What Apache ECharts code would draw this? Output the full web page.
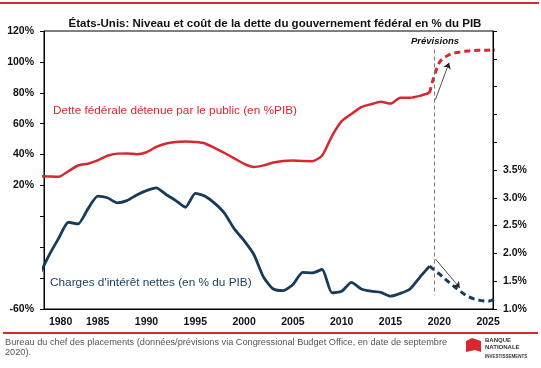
<!DOCTYPE html>
<html><head><meta charset="utf-8">
<script src="https://cdn.jsdelivr.net/npm/echarts@6/dist/echarts.min.js"></script>
<style>html,body{margin:0;padding:0;background:#fff}#c{width:541px;height:368px}</style>
</head><body><div id="c"></div>
<script>
// ---- data ----
const histYears = [];
for (let y = 1979; y <= 2019; y++) histYears.push(y);
const fcYears = [2019, 2020, 2021, 2022, 2023, 2024, 2025, 2026];
const debtHist = [26.0, 25.8, 25.6, 29.2, 32.9, 34.1, 36.2, 39.2, 40.6, 40.7, 40.2, 41.5, 45.0, 47.2, 48.1, 48.4, 48.1, 47.2, 44.2, 41.0, 37.5, 34.0, 32.0, 33.0, 34.8, 35.8, 36.1, 35.8, 35.7, 39.4, 52.0, 61.6, 66.3, 70.7, 72.6, 74.2, 73.0, 76.8, 76.8, 78.0, 80.0];
const debtFc = [80.0, 99.5, 104.6, 106.3, 107.1, 107.5, 107.6, 107.7];
const intHist = [1.60, 1.96, 2.27, 2.56, 2.53, 2.80, 3.03, 3.00, 2.91, 2.95, 3.05, 3.13, 3.18, 3.06, 2.95, 2.83, 3.08, 3.03, 2.90, 2.72, 2.44, 2.23, 1.98, 1.57, 1.36, 1.33, 1.44, 1.66, 1.65, 1.71, 1.29, 1.32, 1.48, 1.36, 1.32, 1.30, 1.23, 1.28, 1.36, 1.57, 1.77];
const intFc = [1.77, 1.63, 1.48, 1.34, 1.22, 1.16, 1.14, 1.22];
const xTickLabels = [1980, 1985, 1990, 1995, 2000, 2005, 2010, 2015, 2020, 2025];
const forecastStart = 2019.5;

const RED = '#d7282f', BLUE = '#183b5c';
const pair = (xs, vs) => xs.map((x, i) => [x, vs[i]]);
const FONT = 'Liberation Sans, Arial, sans-serif';

const chart = echarts.init(document.getElementById('c'), null, {renderer: 'canvas'});
chart.setOption({
  animation: false,
  backgroundColor: '#fff',
  title: {
    text: 'États-Unis: Niveau et coût de la dette du gouvernement fédéral en % du PIB',
    left: 270, top: 13, textAlign: 'center',
    textStyle: {fontFamily: FONT, fontSize: 11.5, fontWeight: 'bold', color: '#111'}
  },
  grid: {left: 44, top: 31, width: 449, height: 278, show: true, borderColor: '#000', borderWidth: 1, containLabel: false},
  xAxis: {
    type: 'value', min: 1979.5, max: 2025.5,
    axisLine: {show: true, onZero: false, lineStyle: {color: '#000', width: 1}},
    axisTick: {show: false},
    splitLine: {show: false},
    axisLabel: {customValues: xTickLabels, alignMinLabel: 'left', margin: 8,
      fontFamily: FONT, fontSize: 10.5, fontWeight: 'bold', color: '#111', formatter: v => String(v)}
  },
  yAxis: [{
    type: 'value', min: -60, max: 120, interval: 20, position: 'left',
    axisLine: {show: true, onZero: false, lineStyle: {color: '#000'}},
    axisTick: {show: true, length: 4, lineStyle: {color: '#000'}},
    splitLine: {show: false},
    axisLabel: {margin: 10, fontFamily: FONT, fontSize: 10.5, fontWeight: 'bold', color: '#111',
      formatter: v => (v >= 20 || v === -60) ? v + '%' : ''}
  }, {
    type: 'value', min: 1, max: 6, interval: 0.5, position: 'right',
    axisLine: {show: true, onZero: false, lineStyle: {color: '#000'}},
    axisTick: {show: true, length: 4, lineStyle: {color: '#000'}},
    splitLine: {show: false},
    axisLabel: {margin: 10, fontFamily: FONT, fontSize: 10.5, fontWeight: 'bold', color: '#111',
      formatter: v => v <= 3.5 ? v.toFixed(1) + '%' : ''}
  }],
  series: [{
    name: 'Dette', type: 'line', yAxisIndex: 0, data: pair(histYears, debtHist),
    showSymbol: false, smooth: 0.2, lineStyle: {color: RED, width: 2.5},
    markLine: {
      silent: true, animation: false, label: {show: false},
      data: [
        [{coord: [forecastStart, 108], symbol: 'none', lineStyle: {color: '#777', width: 1, type: [4, 3]}},
         {coord: [forecastStart, -51], symbol: 'none'}],
        [{coord: [2019.6, 75.5], symbol: 'none', lineStyle: {color: '#222', width: 0.8, type: 'solid'}},
         {coord: [2021.0, 99.5], symbol: 'arrow', symbolSize: 6}]
      ]
    }
  }, {
    name: 'Dette prév', type: 'line', yAxisIndex: 0, data: pair(fcYears, debtFc),
    showSymbol: false, smooth: 0.35, lineStyle: {color: RED, width: 3, type: [6, 4]}
  }, {
    name: 'Intérêt', type: 'line', yAxisIndex: 1, data: pair(histYears, intHist),
    showSymbol: false, smooth: 0.2, lineStyle: {color: BLUE, width: 2.8},
    markLine: {
      silent: true, animation: false, label: {show: false},
      data: [
        [{coord: [2019.6, 1.9], symbol: 'none', lineStyle: {color: '#222', width: 0.8, type: 'solid'}},
         {coord: [2022.1, 1.38], symbol: 'arrow', symbolSize: 6}]
      ]
    }
  }, {
    name: 'Intérêt prév', type: 'line', yAxisIndex: 1, data: pair(fcYears, intFc),
    showSymbol: false, smooth: 0.35, lineStyle: {color: BLUE, width: 3, type: [6, 4]}
  }],
  graphic: [
    {type: 'rect', shape: {x: 0, y: 2, width: 539, height: 2}, style: {fill: RED}},
    {type: 'rect', shape: {x: 3, y: 332, width: 535, height: 2}, style: {fill: RED}},
    {type: 'text', left: 53, top: 105, style: {text: 'Dette fédérale détenue par le public (en %PIB)', fill: RED, font: '11.8px ' + FONT}},
    {type: 'text', left: 50, top: 277, style: {text: "Charges d'intérêt nettes (en % du PIB)", fill: BLUE, font: '11.8px ' + FONT}},
    {type: 'text', x: 435, y: 41, style: {text: 'Prévisions', fill: '#111', font: 'italic bold 9.5px ' + FONT, textAlign: 'center', textVerticalAlign: 'middle'}},
    {type: 'text', left: 5, top: 337, style: {text: 'Bureau du chef des placements (données/prévisions via Congressional Budget Office, en date de septembre\n2020).', fill: '#555', font: '9.2px ' + FONT, lineHeight: 10}},
    {type: 'polygon', shape: {points: [[466, 341], [472, 338], [481, 341], [481, 352], [475, 350], [466, 352]]}, style: {fill: RED}},
    {type: 'text', left: 485, top: 337, style: {text: 'BANQUE\nNATIONALE', fill: '#333', font: 'bold 6px ' + FONT, lineHeight: 7}},
    {type: 'text', left: 485, top: 354, style: {text: 'INVESTISSEMENTS', fill: '#333', font: 'bold 4.5px ' + FONT}}
  ]
});
</script></body></html>
